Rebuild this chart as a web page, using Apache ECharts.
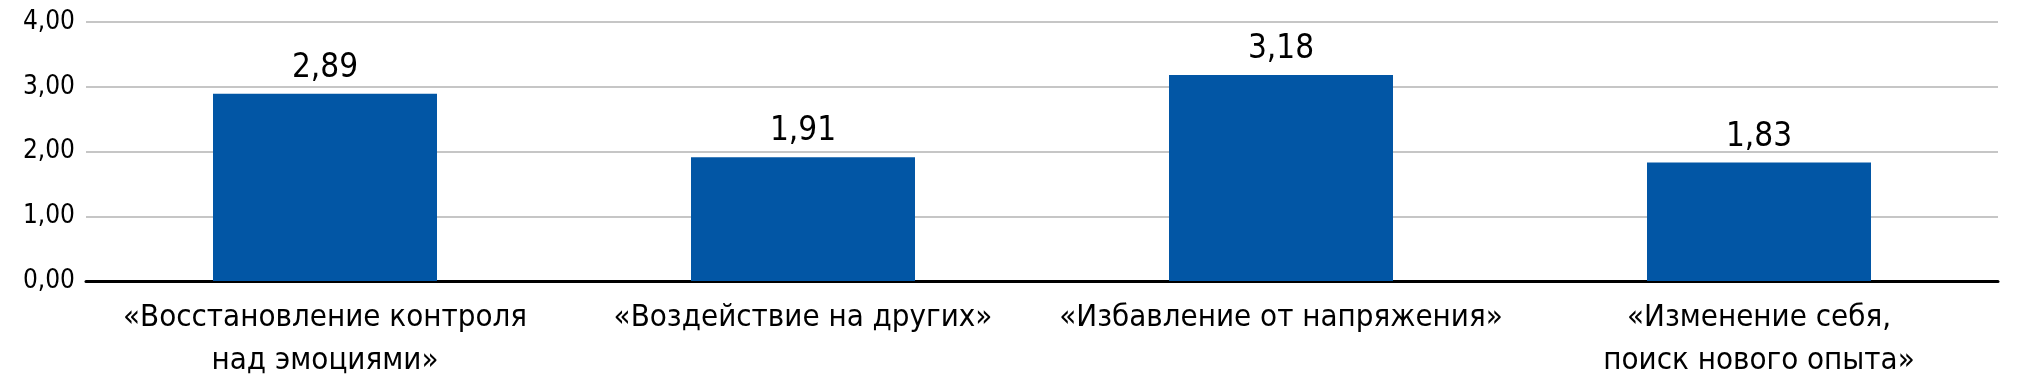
<!DOCTYPE html>
<html>
<head>
<meta charset="utf-8">
<script src="https://cdn.jsdelivr.net/npm/echarts@6/dist/echarts.min.js"></script>
<style>
html,body{margin:0;padding:0;background:#fff;}
#c{width:2020px;height:384px;}
</style>
</head>
<body>
<div id="c"></div>
<script>
const categories = [
  '«Восстановление контроля\nнад эмоциями»',
  '«Воздействие на других»',
  '«Избавление от напряжения»',
  '«Изменение себя,\nпоиск нового опыта»'
];
const values = [2.89, 1.91, 3.18, 1.83];
const yTickLabels = ['0,00', '1,00', '2,00', '3,00', '4,00'];

const FONT = '"DejaVu Sans Condensed", "Liberation Sans Narrow", sans-serif';
const chart = echarts.init(document.getElementById('c'), null, {renderer: 'canvas'});
chart.setOption({
  animation: false,
  grid: {left: 86, right: 22, top: 22, bottom: 103, containLabel: false},
  xAxis: {
    type: 'category',
    data: categories,
    axisLine: {lineStyle: {color: '#000', width: 3}},
    axisTick: {show: false},
    axisLabel: {
      interval: 0,
      margin: 15,
      color: '#000',
      fontFamily: FONT,
      fontSize: 31,
      lineHeight: 43
    }
  },
  yAxis: {
    type: 'value',
    min: 0, max: 4, interval: 1,
    axisLine: {show: false},
    axisTick: {show: false},
    splitLine: {lineStyle: {color: '#c6c6c6', width: 2}},
    axisLabel: {
      margin: 11,
      color: '#000',
      fontFamily: FONT,
      fontSize: 26,
      formatter: function (v) { return yTickLabels[Math.round(v)]; }
    }
  },
  series: [{
    type: 'bar',
    data: values,
    barWidth: 224,
    itemStyle: {color: '#0256A5'},
    label: {
      show: true,
      position: 'top',
      distance: 9,
      color: '#000',
      fontFamily: FONT,
      fontSize: 33,
      formatter: function (p) { return p.value.toFixed(2).replace('.', ','); }
    }
  }]
});
</script>
</body>
</html>
